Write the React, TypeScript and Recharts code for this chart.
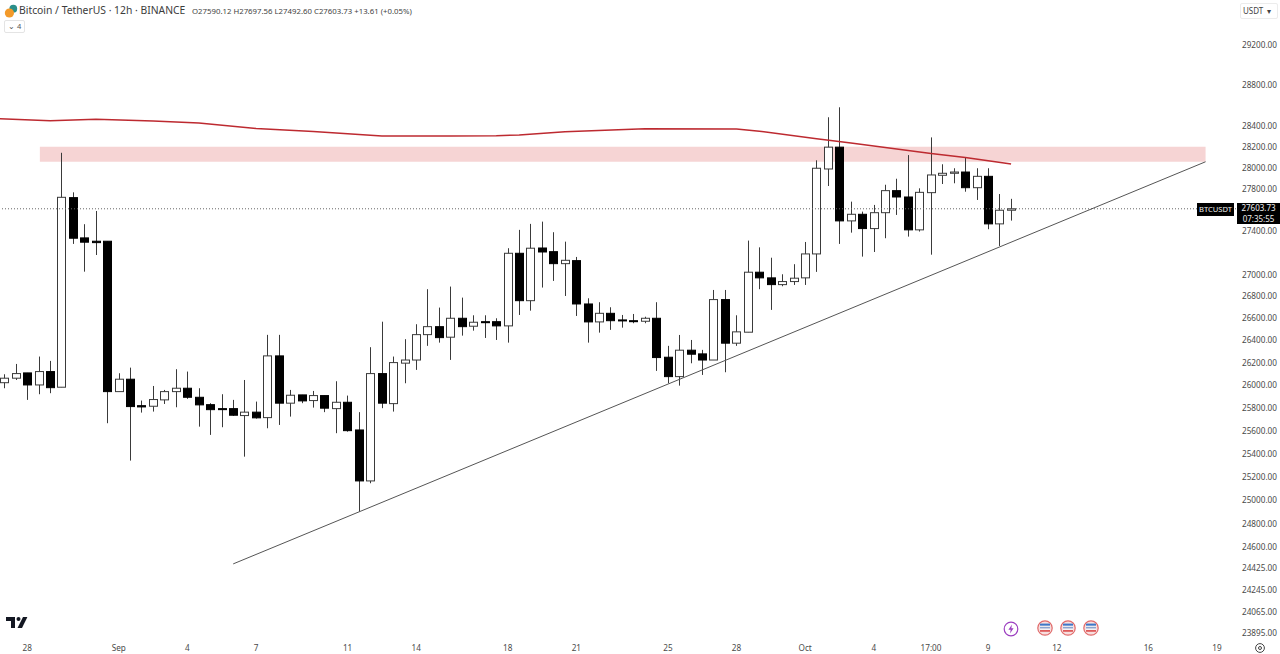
import React from "react";
import { ComposedChart, Bar, Line, XAxis, YAxis, ReferenceLine, ReferenceArea } from "recharts";

const FIRST_SLOT = -10;
const opens = [26014,26054,26101,25994,26113,25974,27709,27331,27300,27300,25935,26045,25811,25806,25862,25935,25965,25885,25820,25785,25785,25724,25754,25706,26253,25833,25906,25856,25900,25785,25841,25598,25157,26095,25829,26188,26216,26444,26516,26421,26592,26520,26561,26561,26523,27188,26752,27237,27203,27092,27120,26722,26559,26637,26577,26570,26565,26592,26241,26068,26304,26271,26216,26762,26367,26466,27013,26961,26899,26927,26961,27182,27981,28190,27490,27552,27418,27567,27775,27715,27406,27756,27921,27940,27952,27803,27911,27462,27590.12];
const highs = [26089,26181,26101,26247,26208,28136,27759,27459,27583,27300,26098,26148,25856,25985,25950,26134,26113,25965,25833,25912,25862,26038,25847,26442,26442,25950,25906,25941,25900,26027,25900,25754,26331,26561,26247,26403,26538,26857,26689,26881,26780,26619,26619,26592,27235,27406,27462,27483,27384,27296,27154,26774,26738,26692,26622,26631,26606,26738,26343,26441,26396,26307,26850,26850,26619,27306,27243,27147,26994,27087,27293,28064,28479,28576,27671,27577,27640,27831,27888,28114,27797,28284,28026,27988,28092,27988,27988,27743,27697.56];
const lows = [25965,26038,25862,25912,25921,25974,27275,27018,27172,25657,25935,25332,25750,25759,25826,25797,25871,25627,25555,25622,25721,25366,25697,25613,25642,25715,25833,25794,25754,25570,25583,24895,25137,25789,25759,26009,26128,26343,26372,26217,26435,26480,26414,26396,26372,26622,26661,26872,26933,26795,26613,26372,26462,26487,26507,26547,26547,26119,26009,25988,26187,26083,26216,26107,26343,26466,26857,26668,26884,26896,26896,27016,27819,27275,27380,27157,27200,27328,27546,27343,27390,27175,27838,27845,27765,27687,27412,27256,27492.6];
const closes = [26054,26095,25994,26113,25970,27712,27328,27291,27287,25935,26045,25803,25800,25865,25935,25965,25885,25818,25776,25776,25727,25754,25704,26253,25833,25903,25853,25900,25789,25841,25592,25157,26095,25833,26193,26216,26444,26516,26417,26592,26516,26556,26552,26523,27188,26752,27235,27200,27092,27123,26722,26559,26637,26570,26568,26565,26592,26238,26068,26304,26268,26216,26762,26367,26469,27013,26961,26899,26927,26958,27182,27988,28190,27490,27552,27418,27567,27775,27715,27406,27759,27924,27940,27952,27803,27911,27462,27590,27603.73];

const maSlots = [-11,-6,-2,3,7,12,17,23,29,33,35,39,46,54,56,61,64,71,74,78];
const maValues = [28466,28446,28459,28443,28423,28370,28340,28297,28297,28300,28307,28339,28368,28365,28344,28272,28229,28130,28091,28029];

const priceTicks = [29200,28800,28400,28200,28000,27800,27400,27000,26800,26600,26400,26200,26000,25800,25600,25400,25200,25000,24800,24600,24425,24245,24065,23895];
const timeSlots = [-8,0,6,12,20,26,34,40,48,54,60,66,71,76,82,90,96];
const timeLabels = ["28","Sep","4","7","11","14","18","21","25","28","Oct","4","17:00","9","12","16","19"];

const lastPrice = 27603.73;
const zoneTop = 28193;
const zoneBottom = 28050;
const zoneStart = -6.9;
const zoneEnd = 95;
const trendFrom = { slot: 10, price: 24455 };
const trendTo = { slot: 95, price: 28050 };

const rows = opens.map((open, k) => ({
  slot: FIRST_SLOT + k,
  open,
  high: highs[k],
  low: lows[k],
  close: closes[k],
}));
const maRows = maSlots.map((slot, k) => ({ slot, ma: maValues[k] }));

const FONT = "'Noto Sans', sans-serif";
const TEXT = "#4a4a4a";

function Candle(props: any) {
  const { x, y, width, height, payload } = props;
  const { open, high, low, close } = payload;
  const span = Math.log(high / low) || 1;
  const at = (p: number) => y + (height * Math.log(high / p)) / span;
  const top = at(Math.max(open, close));
  const bottom = at(Math.min(open, close));
  const cx = Math.round(x + width / 2) + 0.5;
  const left = Math.round(cx - width / 2) + 0.5;
  const up = close >= open;
  return (
    <g>
      <line x1={cx} x2={cx} y1={y} y2={y + height} stroke="#3a3a3a" strokeWidth={1} />
      <rect
        x={left}
        y={top}
        width={width - 1}
        height={Math.max(bottom - top, 1)}
        fill={up ? "#ffffff" : "#000000"}
        stroke={up ? "#3a3a3a" : "#000000"}
        strokeWidth={1}
      />
    </g>
  );
}

function Flag({ x, y }: { x: number; y: number }) {
  return (
    <svg style={{ position: "absolute", left: x - 8, top: y - 8 }} width={16} height={16} viewBox="0 0 16 16">
      <circle cx={8} cy={8} r={7.2} fill="#f7dede" stroke="#e06a6a" strokeWidth={1.2} />
      <rect x={3} y={3.6} width={10} height={2.2} fill="#3d78c9" />
      <rect x={3} y={5.8} width={10} height={1.3} fill="#e9e9ee" />
      <rect x={3} y={7.1} width={10} height={1.5} fill="#7f9fd0" />
      <rect x={3} y={8.6} width={10} height={1.4} fill="#f3f3f6" />
      <rect x={3} y={10} width={10} height={1.8} fill="#de5a5a" />
    </svg>
  );
}

export default function App() {
  return (
    <div style={{ position: "absolute", left: 0, top: 0, width: 1280, height: 654, background: "#fff", overflow: "hidden", fontFamily: FONT }}>
      <ComposedChart
        width={1280}
        height={654}
        data={rows}
        margin={{ top: 0, right: 0, bottom: 0, left: 0 }}
      >
        <XAxis
          dataKey="slot"
          type="number"
          domain={[-10.385, 97.66]}
          allowDataOverflow
          ticks={timeSlots}
          interval={0}
          tickFormatter={(v: number) => timeLabels[timeSlots.indexOf(v)]}
          axisLine={false}
          tickLine={false}
          height={18}
          tick={{ fontSize: 8.2, fill: TEXT, fontFamily: FONT }}
          tickMargin={3}
        />
        <YAxis
          orientation="right"
          type="number"
          scale="log"
          domain={[23861, 29641]}
          allowDataOverflow
          ticks={priceTicks}
          interval={0}
          tickFormatter={(v: number) => v.toFixed(2)}
          axisLine={false}
          tickLine={false}
          width={44}
          tick={{ fontSize: 8.2, fill: TEXT, fontFamily: FONT, textAnchor: "start", dy: 1 }}
          tickMargin={0}
        />
        <ReferenceArea
          x1={zoneStart}
          x2={zoneEnd}
          y1={zoneBottom}
          y2={zoneTop}
          fill="#f6d4d4"
          fillOpacity={1}
          stroke="none"
          ifOverflow="visible"
        />
        <ReferenceLine y={lastPrice} stroke="#666666" strokeWidth={1} strokeDasharray="1 2" />
        <ReferenceLine
          segment={[
            { x: trendFrom.slot, y: trendFrom.price },
            { x: trendTo.slot, y: trendTo.price },
          ]}
          stroke="#555555"
          strokeWidth={1}
          ifOverflow="visible"
        />
        <Bar
          dataKey={(d: any) => [d.low, d.high]}
          barSize={9}
          shape={<Candle />}
          isAnimationActive={false}
        />
        <Line
          data={maRows}
          dataKey="ma"
          type="linear"
          stroke="#bd2a30"
          strokeWidth={1.5}
          dot={false}
          activeDot={false}
          isAnimationActive={false}
        />
      </ComposedChart>

      {/* header */}
      <svg style={{ position: "absolute", left: 4, top: 4 }} width={14} height={14} viewBox="0 0 14 14">
        <circle cx={9.3} cy={4.7} r={3.9} fill="#2b8f8a" />
        <circle cx={5.4} cy={9} r={4.6} fill="#f39a2a" />
      </svg>
      <div style={{ position: "absolute", left: 19, top: 3, fontSize: 10.35, color: "#3c3c3c", whiteSpace: "nowrap", lineHeight: "15px" }}>
        Bitcoin / TetherUS · 12h · BINANCE
      </div>
      <div style={{ position: "absolute", left: 192, top: 4, fontSize: 7.8, color: "#444", whiteSpace: "nowrap", lineHeight: "14px" }}>
        O27590.12 H27697.56 L27492.60 C27603.73 +13.61 (+0.05%)
      </div>
      <div style={{ position: "absolute", left: 4, top: 20, width: 21, height: 13, border: "1px solid #e4e4e4", borderRadius: 2, boxSizing: "border-box", fontSize: 7.5, lineHeight: "11px", color: "#555", paddingLeft: 3, whiteSpace: "nowrap" }}>
        ⌄&nbsp;4
      </div>
      <div style={{ position: "absolute", left: 1240, top: 3, width: 38, height: 16, border: "1px solid #ececec", borderRadius: 2, boxSizing: "border-box", fontSize: 8, lineHeight: "14px", color: "#444", paddingLeft: 2, whiteSpace: "nowrap" }}>
        USDT&nbsp;&nbsp;▾
      </div>

      {/* last price tags */}
      <div style={{ position: "absolute", left: 1197, top: 203, width: 37, height: 13, background: "#000", color: "#eee", fontSize: 7.6, lineHeight: "13px", textAlign: "center", whiteSpace: "nowrap" }}>
        BTCUSDT
      </div>
      <div style={{ position: "absolute", left: 1237, top: 203, width: 43, height: 21, background: "#000", color: "#eee", fontSize: 8, lineHeight: "10.5px", textAlign: "center", whiteSpace: "nowrap" }}>
        27603.73
        <br />
        07:35:55
      </div>

      {/* TradingView mark */}
      <svg style={{ position: "absolute", left: 5, top: 616 }} width={24} height={14} viewBox="0 0 24 14">
        <polygon points="1,1 10,1 10,12 6,12 6,5 1,5" fill="#131722" />
        <circle cx={13.5} cy={3} r={2} fill="#131722" />
        <polygon points="18,1 22.4,1 17,12 12.5,12" fill="#131722" />
      </svg>

      {/* events */}
      <svg style={{ position: "absolute", left: 1003, top: 621 }} width={16} height={16} viewBox="0 0 16 16">
        <circle cx={8} cy={8} r={6.8} fill="#fff" stroke="#9c3fc0" strokeWidth={1.2} />
        <polygon points="9,3.6 5.4,8.8 7.7,8.8 7,12.4 10.6,7.2 8.3,7.2" fill="#9c3fc0" />
      </svg>
      <Flag x={1045} y={628} />
      <Flag x={1068} y={628} />
      <Flag x={1091} y={628} />

      {/* settings */}
      <svg style={{ position: "absolute", left: 1254, top: 642 }} width={12} height={12} viewBox="0 0 12 12">
        <circle cx={6} cy={6} r={4.4} fill="none" stroke="#444" strokeWidth={1} />
        <circle cx={6} cy={6} r={1.5} fill="none" stroke="#444" strokeWidth={1} />
      </svg>
    </div>
  );
}
